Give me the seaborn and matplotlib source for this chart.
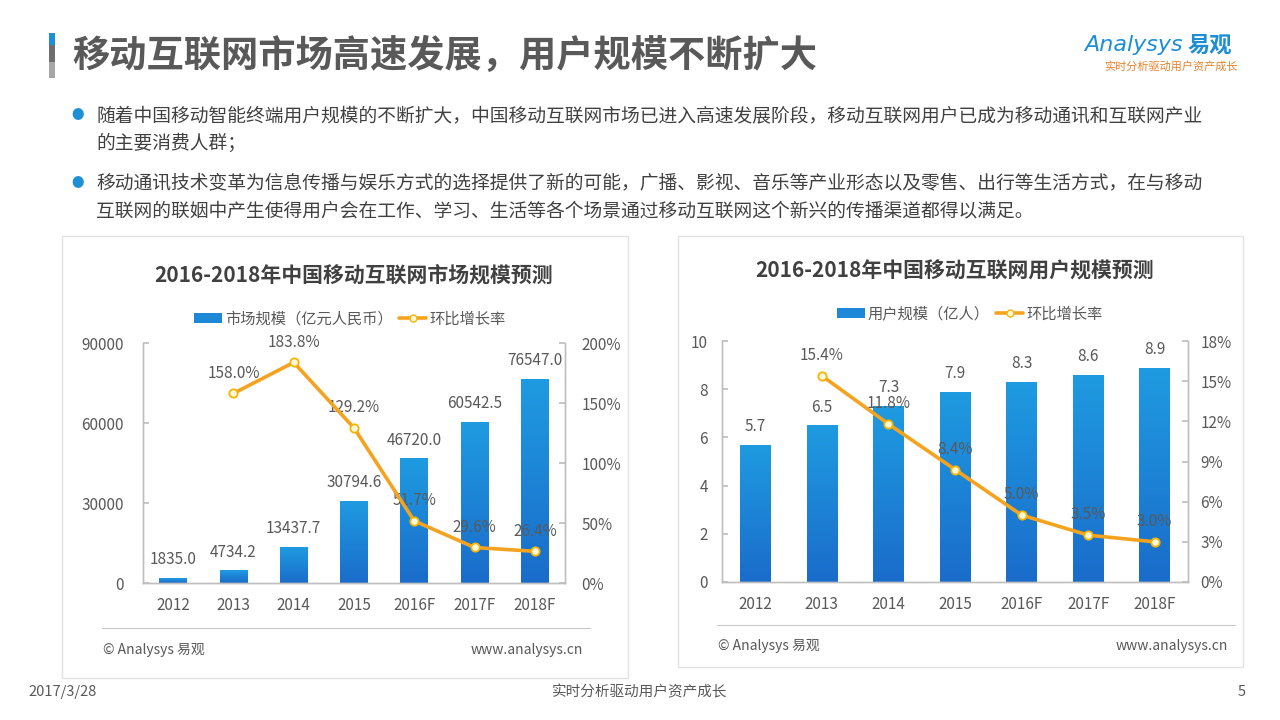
import numpy as np
import pandas as pd
import matplotlib
matplotlib.use('Agg')
import matplotlib.pyplot as plt
import seaborn as sns
from matplotlib.patches import Rectangle
from matplotlib.lines import Line2D
from matplotlib.colors import LinearSegmentedColormap
from matplotlib.ticker import FuncFormatter

# ---------------- data ----------------
years = ['2012', '2013', '2014', '2015', '2016F', '2017F', '2018F']
market_size = [1835.0, 4734.2, 13437.7, 30794.6, 46720.0, 60542.5, 76547.0]
market_growth_years = ['2013', '2014', '2015', '2016F', '2017F', '2018F']
market_growth = [158.0, 183.8, 129.2, 51.7, 29.6, 26.4]
user_size = [5.7, 6.5, 7.3, 7.9, 8.3, 8.6, 8.9]
user_growth_years = ['2013', '2014', '2015', '2016F', '2017F', '2018F']
user_growth = [15.4, 11.8, 8.4, 5.0, 3.5, 3.0]

market_ticks = [0, 30000, 60000, 90000]
market_pct_ticks = [0, 50, 100, 150, 200]
user_ticks = [0, 2, 4, 6, 8, 10]
user_pct_ticks = [0, 3, 6, 9, 12, 15, 18]

page_title = '移动互联网市场高速发展，用户规模不断扩大'
bullet_lines = [
    '随着中国移动智能终端用户规模的不断扩大，中国移动互联网市场已进入高速发展阶段，移动互联网用户已成为移动通讯和互联网产业',
    '的主要消费人群；',
    '移动通讯技术变革为信息传播与娱乐方式的选择提供了新的可能，广播、影视、音乐等产业形态以及零售、出行等生活方式，在与移动',
    '互联网的联姻中产生使得用户会在工作、学习、生活等各个场景通过移动互联网这个新兴的传播渠道都得以满足。',
]
chart1_title = '2016-2018年中国移动互联网市场规模预测'
chart2_title = '2016-2018年中国移动互联网用户规模预测'
chart1_bar_label = '市场规模（亿元人民币）'
chart2_bar_label = '用户规模（亿人）'
line_label = '环比增长率'

# ---------------- style ----------------
sns.set_theme(style='white')
plt.rcParams['font.family'] = ['Noto Sans CJK SC', 'DejaVu Sans']

W, H = 1280, 720
fig = plt.figure(figsize=(12.8, 7.2), dpi=100)
fig.patch.set_facecolor('white')

def fx(x):
    return x / W

def fy(y):
    return 1 - y / H

GRAY_TXT = '#595959'
DARK_TXT = '#404040'
AX_GRAY = '#BFBFBF'
LINE_COL = '#F5A31F'
BAR_TOP = '#1F9BE1'
BAR_BOT = '#1A6CCA'
cmap = LinearSegmentedColormap.from_list('bargrad', [BAR_BOT, BAR_TOP])

# ---------------- header ----------------
fig.patches.append(Rectangle((fx(49), fy(45)), 6 / W, 12 / H, transform=fig.transFigure,
                             facecolor='#1E90D8', edgecolor='none'))
fig.patches.append(Rectangle((fx(49), fy(62)), 6 / W, 17 / H, transform=fig.transFigure,
                             facecolor='#6E6E6E', edgecolor='none'))
fig.patches.append(Rectangle((fx(49), fy(78)), 6 / W, 16 / H, transform=fig.transFigure,
                             facecolor='#A6A6A6', edgecolor='none'))
fig.text(fx(72), fy(56), page_title, fontsize=26.8, fontweight='bold', color=GRAY_TXT,
         ha='left', va='center')

# logo
fig.text(fx(1084), fy(45), 'Analysys', fontsize=16, color='#1B8ED6', style='italic',
         ha='left', va='center', family=['DejaVu Sans'])
fig.text(fx(1188), fy(45), '易观', fontsize=16, fontweight='bold', color='#1B8ED6',
         ha='left', va='center')
fig.text(fx(1171), fy(66), '实时分析驱动用户资产成长', fontsize=8, color='#E8812A',
         ha='center', va='center')

# bullets
bullet_y = [116, 143, 183, 211]
for i, (line, y) in enumerate(zip(bullet_lines, bullet_y)):
    if i in (0, 2):
        fig.text(fx(78), fy(y), '●', fontsize=9, color='#1E90D8', ha='center', va='center')
    fig.text(fx(96), fy(y), line, fontsize=13.5, color=DARK_TXT, ha='left', va='center')

# ---------------- panels ----------------
def panel(l, t, r, b, sep_y, sep_l, sep_r, src_y):
    fig.patches.append(Rectangle((fx(l), fy(b)), (r - l) / W, (b - t) / H,
                                 transform=fig.transFigure, fill=False,
                                 edgecolor='#E2E2E2', lw=1))
    fig.lines.append(Line2D([fx(sep_l), fx(sep_r)], [fy(sep_y), fy(sep_y)],
                            transform=fig.transFigure, color='#C8C8C8', lw=0.8))
    fig.text(fx(sep_l + 1), fy(src_y), '© Analysys 易观', fontsize=10, color=GRAY_TXT,
             ha='left', va='center')
    fig.text(fx(sep_r - 7), fy(src_y), 'www.analysys.cn', fontsize=10, color=GRAY_TXT,
             ha='right', va='center')

panel(62, 236, 628, 678, 628, 102, 590, 650)
panel(678, 236, 1243, 667, 625, 717, 1235, 646)


def draw_chart(box, cats, bars, gyears, growth, ylim, yticks, y2lim, y2ticks,
               bar_fmt, title, title_y, bar_label, leg_xy, lpad, rpad):
    l, t, r, b = box
    ax = fig.add_axes([fx(l), fy(b), (r - l) / W, (b - t) / H])
    df = pd.DataFrame({'year': cats, 'value': bars})
    sns.barplot(data=df, x='year', y='value', ax=ax, color=BAR_TOP, width=0.46,
                saturation=1, zorder=2)
    grad = np.linspace(1, 0, 256).reshape(-1, 1)
    for p in list(ax.patches):
        x0, y0, w, h = p.get_x(), p.get_y(), p.get_width(), p.get_height()
        im = ax.imshow(grad, extent=[x0, x0 + w, y0, y0 + h], aspect='auto',
                       cmap=cmap, vmin=0, vmax=1, zorder=2.1, interpolation='bilinear')
        im.set_clip_path(p)
    for i, v in enumerate(bars):
        ax.annotate(bar_fmt(v), (i, v), xytext=(0, 7), textcoords='offset points',
                    ha='center', va='bottom', fontsize=11, color=GRAY_TXT, zorder=5)
    ax.set_xlim(-0.5, len(cats) - 0.5)
    ax.set_ylim(*ylim)
    ax.set_yticks(yticks)
    ax.set_xlabel('')
    ax.set_ylabel('')
    ax.tick_params(axis='y', direction='in', length=4, color=AX_GRAY, labelsize=11,
                   labelcolor=GRAY_TXT, pad=lpad, left=True)
    ax.tick_params(axis='x', length=0, labelsize=11, labelcolor=GRAY_TXT, pad=10)

    ax2 = ax.twinx()
    pos = [cats.index(c) for c in gyears]
    gdf = pd.DataFrame({'x': pos, 'g': growth})
    sns.lineplot(data=gdf, x='x', y='g', ax=ax2, color=LINE_COL, lw=2.6, marker='o',
                 markersize=6, markerfacecolor='#FFF8DC', markeredgecolor='#F7B500',
                 markeredgewidth=1.3, zorder=4)
    for x, g in zip(pos, growth):
        ax2.annotate(f'{g:.1f}%', (x, g), xytext=(0, 8.5), textcoords='offset points',
                     ha='center', va='bottom', fontsize=11, color=GRAY_TXT)
    ax2.set_ylim(*y2lim)
    ax2.set_yticks(y2ticks)
    ax2.yaxis.set_major_formatter(FuncFormatter(lambda v, _: f'{v:.0f}%'))
    ax2.set_xlim(-0.5, len(cats) - 0.5)
    ax2.set_xlabel('')
    ax2.set_ylabel('')
    ax2.tick_params(axis='y', direction='in', length=4, color=AX_GRAY, labelsize=11,
                    labelcolor=GRAY_TXT, pad=rpad, right=True)
    for a in (ax, ax2):
        a.spines['top'].set_visible(False)
        for s in ('left', 'right', 'bottom'):
            a.spines[s].set_color(AX_GRAY)
            a.spines[s].set_linewidth(1)
        a.grid(False)
    ax.patch.set_alpha(0)

    # title
    cx = (l + r) / 2
    fig.text(fx(cx), fy(title_y), title, fontsize=15, fontweight='bold', color=DARK_TXT,
             ha='center', va='center')
    # legend
    handles = [Rectangle((0, 0), 1, 1, facecolor='#1E88D8', edgecolor='none'),
               Line2D([0], [0], color=LINE_COL, lw=2.6, marker='o', markersize=5,
                      markerfacecolor='#FFF8DC', markeredgecolor='#F7B500')]
    leg = fig.legend(handles, [bar_label, line_label], loc='center',
                     bbox_to_anchor=(fx(leg_xy[0]), fy(leg_xy[1])), ncol=2,
                     frameon=False, fontsize=11, handlelength=1.8, handleheight=0.6,
                     handletextpad=0.2, columnspacing=0.4)
    for tx in leg.get_texts():
        tx.set_color(GRAY_TXT)
    return ax, ax2


draw_chart((143, 343, 565, 583), years, market_size, market_growth_years, market_growth,
           (0, 90000), market_ticks, (0, 200), market_pct_ticks,
           lambda v: f'{v:.1f}', chart1_title, 275, chart1_bar_label, (350, 319), 14, 12)

draw_chart((722, 341, 1188, 582), years, user_size, user_growth_years, user_growth,
           (0, 10), user_ticks, (0, 18), user_pct_ticks,
           lambda v: f'{v:.1f}', chart2_title, 271, chart2_bar_label, (970, 314), 10, 9)

# ---------------- footer ----------------
fig.text(fx(28), fy(692), '2017/3/28', fontsize=10.5, color=GRAY_TXT, ha='left', va='center')
fig.text(fx(640), fy(692), '实时分析驱动用户资产成长', fontsize=10.5, color=GRAY_TXT,
         ha='center', va='center')
fig.text(fx(1246), fy(692), '5', fontsize=10.5, color=GRAY_TXT, ha='right', va='center')

fig.savefig('out.png', dpi=100, facecolor='white')
